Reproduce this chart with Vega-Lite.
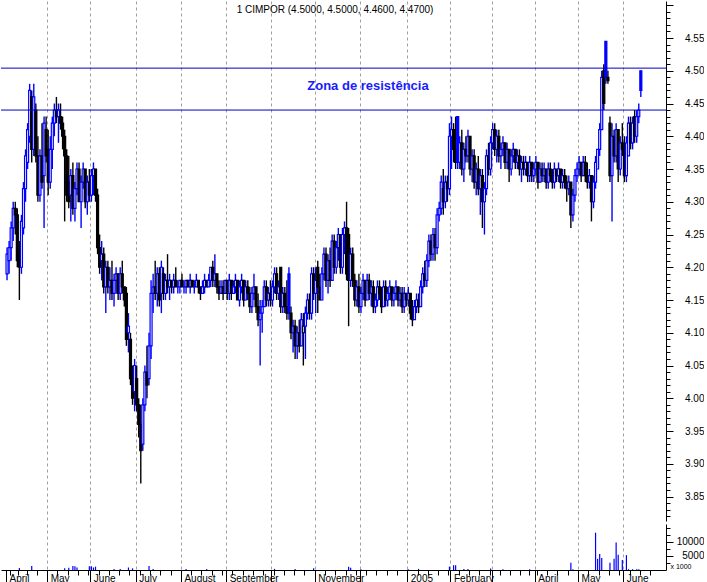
{
"$schema": "https://vega.github.io/schema/vega-lite/v6.json",
"padding": 0,
"spacing": 0,
"background": "white",
"config": {"view": {"stroke": null}, "font": "Liberation Sans", "concat": {"spacing": 0},
  "axis": {"labelFont": "Liberation Sans", "labelFontSize": 10, "labelColor": "#000000", "tickColor": "#000000", "domainColor": "#000000", "titleFont": "Liberation Sans", "labelOverlap": false, "labelFlush": false}},
"datasets": {"ohlc": [
{"d":"2004-04-01","o":4.19,"h":4.23,"l":4.18,"c":4.22,"v":0},
{"d":"2004-04-02","o":4.21,"h":4.24,"l":4.19,"c":4.23,"v":0},
{"d":"2004-04-05","o":4.23,"h":4.27,"l":4.21,"c":4.26,"v":0},
{"d":"2004-04-06","o":4.26,"h":4.30,"l":4.24,"c":4.29,"v":0},
{"d":"2004-04-07","o":4.29,"h":4.30,"l":4.25,"c":4.28,"v":0},
{"d":"2004-04-08","o":4.28,"h":4.29,"l":4.20,"c":4.21,"v":0},
{"d":"2004-04-13","o":4.22,"h":4.24,"l":4.15,"c":4.20,"v":700},
{"d":"2004-04-14","o":4.20,"h":4.28,"l":4.19,"c":4.27,"v":0},
{"d":"2004-04-15","o":4.26,"h":4.33,"l":4.25,"c":4.32,"v":0},
{"d":"2004-04-16","o":4.32,"h":4.38,"l":4.30,"c":4.37,"v":0},
{"d":"2004-04-19","o":4.36,"h":4.42,"l":4.35,"c":4.41,"v":0},
{"d":"2004-04-20","o":4.40,"h":4.48,"l":4.39,"c":4.47,"v":0},
{"d":"2004-04-21","o":4.46,"h":4.47,"l":4.36,"c":4.38,"v":1400},
{"d":"2004-04-22","o":4.38,"h":4.48,"l":4.37,"c":4.46,"v":0},
{"d":"2004-04-23","o":4.44,"h":4.45,"l":4.36,"c":4.37,"v":0},
{"d":"2004-04-26","o":4.37,"h":4.40,"l":4.30,"c":4.31,"v":0},
{"d":"2004-04-27","o":4.31,"h":4.38,"l":4.30,"c":4.37,"v":0},
{"d":"2004-04-28","o":4.37,"h":4.42,"l":4.32,"c":4.33,"v":0},
{"d":"2004-04-29","o":4.34,"h":4.43,"l":4.26,"c":4.42,"v":0},
{"d":"2004-04-30","o":4.41,"h":4.43,"l":4.36,"c":4.37,"v":0},
{"d":"2004-05-03","o":4.38,"h":4.41,"l":4.31,"c":4.33,"v":0},
{"d":"2004-05-04","o":4.33,"h":4.40,"l":4.32,"c":4.38,"v":0},
{"d":"2004-05-05","o":4.38,"h":4.43,"l":4.35,"c":4.42,"v":0},
{"d":"2004-05-06","o":4.42,"h":4.45,"l":4.40,"c":4.44,"v":0},
{"d":"2004-05-07","o":4.44,"h":4.46,"l":4.42,"c":4.43,"v":0},
{"d":"2004-05-10","o":4.43,"h":4.45,"l":4.39,"c":4.44,"v":0},
{"d":"2004-05-11","o":4.43,"h":4.45,"l":4.41,"c":4.42,"v":0},
{"d":"2004-05-12","o":4.42,"h":4.43,"l":4.38,"c":4.40,"v":0},
{"d":"2004-05-13","o":4.40,"h":4.41,"l":4.27,"c":4.37,"v":600},
{"d":"2004-05-14","o":4.37,"h":4.38,"l":4.30,"c":4.31,"v":0},
{"d":"2004-05-17","o":4.33,"h":4.37,"l":4.29,"c":4.30,"v":800},
{"d":"2004-05-18","o":4.31,"h":4.35,"l":4.27,"c":4.34,"v":0},
{"d":"2004-05-19","o":4.34,"h":4.36,"l":4.28,"c":4.29,"v":1400},
{"d":"2004-05-20","o":4.29,"h":4.33,"l":4.27,"c":4.32,"v":1300},
{"d":"2004-05-21","o":4.32,"h":4.36,"l":4.31,"c":4.35,"v":900},
{"d":"2004-05-24","o":4.35,"h":4.36,"l":4.30,"c":4.30,"v":0},
{"d":"2004-05-25","o":4.30,"h":4.34,"l":4.26,"c":4.33,"v":0},
{"d":"2004-05-26","o":4.33,"h":4.36,"l":4.32,"c":4.35,"v":0},
{"d":"2004-05-27","o":4.35,"h":4.35,"l":4.29,"c":4.30,"v":0},
{"d":"2004-05-28","o":4.30,"h":4.34,"l":4.28,"c":4.33,"v":0},
{"d":"2004-05-31","o":4.33,"h":4.35,"l":4.30,"c":4.31,"v":1300},
{"d":"2004-06-01","o":4.31,"h":4.35,"l":4.30,"c":4.34,"v":1300},
{"d":"2004-06-02","o":4.34,"h":4.36,"l":4.31,"c":4.35,"v":900},
{"d":"2004-06-03","o":4.35,"h":4.35,"l":4.30,"c":4.31,"v":1200},
{"d":"2004-06-04","o":4.31,"h":4.32,"l":4.22,"c":4.23,"v":0},
{"d":"2004-06-07","o":4.23,"h":4.25,"l":4.19,"c":4.20,"v":0},
{"d":"2004-06-08","o":4.21,"h":4.24,"l":4.18,"c":4.22,"v":0},
{"d":"2004-06-09","o":4.22,"h":4.23,"l":4.16,"c":4.17,"v":0},
{"d":"2004-06-10","o":4.17,"h":4.21,"l":4.13,"c":4.20,"v":0},
{"d":"2004-06-11","o":4.20,"h":4.21,"l":4.16,"c":4.17,"v":0},
{"d":"2004-06-14","o":4.17,"h":4.20,"l":4.15,"c":4.18,"v":0},
{"d":"2004-06-15","o":4.18,"h":4.21,"l":4.15,"c":4.16,"v":0},
{"d":"2004-06-16","o":4.16,"h":4.19,"l":4.14,"c":4.18,"v":400},
{"d":"2004-06-17","o":4.18,"h":4.20,"l":4.16,"c":4.19,"v":0},
{"d":"2004-06-18","o":4.19,"h":4.19,"l":4.15,"c":4.16,"v":0},
{"d":"2004-06-21","o":4.16,"h":4.20,"l":4.15,"c":4.19,"v":400},
{"d":"2004-06-22","o":4.19,"h":4.21,"l":4.16,"c":4.17,"v":0},
{"d":"2004-06-23","o":4.17,"h":4.17,"l":4.14,"c":4.15,"v":0},
{"d":"2004-06-24","o":4.16,"h":4.17,"l":4.08,"c":4.09,"v":0},
{"d":"2004-06-25","o":4.10,"h":4.13,"l":4.07,"c":4.11,"v":900},
{"d":"2004-06-28","o":4.09,"h":4.10,"l":4.02,"c":4.03,"v":0},
{"d":"2004-06-29","o":4.04,"h":4.05,"l":3.99,"c":4.00,"v":600},
{"d":"2004-06-30","o":4.01,"h":4.06,"l":3.98,"c":4.05,"v":0},
{"d":"2004-07-01","o":4.03,"h":4.05,"l":3.98,"c":3.99,"v":0},
{"d":"2004-07-02","o":3.99,"h":4.00,"l":3.94,"c":3.96,"v":0},
{"d":"2004-07-05","o":3.96,"h":3.99,"l":3.87,"c":3.92,"v":0},
{"d":"2004-07-06","o":3.93,"h":4.00,"l":3.92,"c":3.99,"v":0},
{"d":"2004-07-07","o":3.99,"h":4.05,"l":3.98,"c":4.04,"v":0},
{"d":"2004-07-08","o":4.04,"h":4.08,"l":4.00,"c":4.02,"v":0},
{"d":"2004-07-09","o":4.03,"h":4.10,"l":4.02,"c":4.08,"v":1400},
{"d":"2004-07-12","o":4.08,"h":4.18,"l":4.06,"c":4.16,"v":0},
{"d":"2004-07-13","o":4.16,"h":4.19,"l":4.13,"c":4.17,"v":400},
{"d":"2004-07-14","o":4.17,"h":4.21,"l":4.15,"c":4.16,"v":0},
{"d":"2004-07-15","o":4.16,"h":4.20,"l":4.14,"c":4.19,"v":0},
{"d":"2004-07-16","o":4.19,"h":4.20,"l":4.14,"c":4.15,"v":0},
{"d":"2004-07-19","o":4.16,"h":4.21,"l":4.13,"c":4.20,"v":0},
{"d":"2004-07-20","o":4.19,"h":4.20,"l":4.15,"c":4.16,"v":0},
{"d":"2004-07-21","o":4.16,"h":4.19,"l":4.15,"c":4.18,"v":0},
{"d":"2004-07-22","o":4.18,"h":4.22,"l":4.16,"c":4.17,"v":0},
{"d":"2004-07-23","o":4.17,"h":4.19,"l":4.15,"c":4.18,"v":0},
{"d":"2004-07-26","o":4.18,"h":4.18,"l":4.16,"c":4.17,"v":0},
{"d":"2004-07-27","o":4.17,"h":4.19,"l":4.16,"c":4.18,"v":0},
{"d":"2004-07-28","o":4.18,"h":4.20,"l":4.17,"c":4.17,"v":0},
{"d":"2004-07-29","o":4.17,"h":4.18,"l":4.16,"c":4.17,"v":0},
{"d":"2004-07-30","o":4.17,"h":4.18,"l":4.16,"c":4.18,"v":0},
{"d":"2004-08-02","o":4.18,"h":4.19,"l":4.17,"c":4.17,"v":0},
{"d":"2004-08-03","o":4.17,"h":4.18,"l":4.16,"c":4.17,"v":0},
{"d":"2004-08-04","o":4.17,"h":4.18,"l":4.16,"c":4.18,"v":400},
{"d":"2004-08-05","o":4.18,"h":4.18,"l":4.17,"c":4.17,"v":0},
{"d":"2004-08-06","o":4.17,"h":4.19,"l":4.16,"c":4.18,"v":0},
{"d":"2004-08-09","o":4.18,"h":4.18,"l":4.17,"c":4.17,"v":0},
{"d":"2004-08-10","o":4.17,"h":4.18,"l":4.16,"c":4.17,"v":0},
{"d":"2004-08-11","o":4.17,"h":4.19,"l":4.17,"c":4.18,"v":0},
{"d":"2004-08-12","o":4.18,"h":4.18,"l":4.16,"c":4.17,"v":0},
{"d":"2004-08-13","o":4.17,"h":4.17,"l":4.15,"c":4.16,"v":0},
{"d":"2004-08-16","o":4.16,"h":4.18,"l":4.16,"c":4.17,"v":0},
{"d":"2004-08-17","o":4.17,"h":4.19,"l":4.16,"c":4.18,"v":0},
{"d":"2004-08-18","o":4.18,"h":4.18,"l":4.17,"c":4.17,"v":400},
{"d":"2004-08-19","o":4.17,"h":4.19,"l":4.17,"c":4.18,"v":0},
{"d":"2004-08-20","o":4.18,"h":4.20,"l":4.17,"c":4.20,"v":0},
{"d":"2004-08-23","o":4.20,"h":4.21,"l":4.17,"c":4.18,"v":0},
{"d":"2004-08-24","o":4.18,"h":4.22,"l":4.17,"c":4.19,"v":0},
{"d":"2004-08-25","o":4.19,"h":4.19,"l":4.16,"c":4.17,"v":0},
{"d":"2004-08-26","o":4.17,"h":4.18,"l":4.15,"c":4.16,"v":0},
{"d":"2004-08-27","o":4.16,"h":4.18,"l":4.16,"c":4.17,"v":0},
{"d":"2004-08-30","o":4.17,"h":4.18,"l":4.15,"c":4.16,"v":0},
{"d":"2004-08-31","o":4.16,"h":4.18,"l":4.16,"c":4.18,"v":0},
{"d":"2004-09-01","o":4.18,"h":4.18,"l":4.15,"c":4.16,"v":0},
{"d":"2004-09-02","o":4.16,"h":4.19,"l":4.15,"c":4.18,"v":0},
{"d":"2004-09-03","o":4.18,"h":4.18,"l":4.15,"c":4.16,"v":0},
{"d":"2004-09-06","o":4.16,"h":4.18,"l":4.16,"c":4.17,"v":0},
{"d":"2004-09-07","o":4.17,"h":4.19,"l":4.16,"c":4.18,"v":0},
{"d":"2004-09-08","o":4.18,"h":4.18,"l":4.15,"c":4.15,"v":0},
{"d":"2004-09-09","o":4.15,"h":4.18,"l":4.14,"c":4.17,"v":0},
{"d":"2004-09-10","o":4.17,"h":4.19,"l":4.16,"c":4.18,"v":0},
{"d":"2004-09-13","o":4.18,"h":4.18,"l":4.14,"c":4.15,"v":0},
{"d":"2004-09-14","o":4.15,"h":4.18,"l":4.15,"c":4.17,"v":0},
{"d":"2004-09-15","o":4.17,"h":4.18,"l":4.15,"c":4.16,"v":0},
{"d":"2004-09-16","o":4.16,"h":4.17,"l":4.13,"c":4.14,"v":0},
{"d":"2004-09-17","o":4.14,"h":4.17,"l":4.13,"c":4.16,"v":0},
{"d":"2004-09-20","o":4.16,"h":4.19,"l":4.15,"c":4.17,"v":0},
{"d":"2004-09-21","o":4.17,"h":4.17,"l":4.13,"c":4.14,"v":0},
{"d":"2004-09-22","o":4.14,"h":4.16,"l":4.11,"c":4.12,"v":0},
{"d":"2004-09-23","o":4.12,"h":4.15,"l":4.05,"c":4.13,"v":0},
{"d":"2004-09-24","o":4.13,"h":4.15,"l":4.10,"c":4.14,"v":0},
{"d":"2004-09-27","o":4.14,"h":4.18,"l":4.14,"c":4.17,"v":0},
{"d":"2004-09-28","o":4.17,"h":4.18,"l":4.14,"c":4.15,"v":0},
{"d":"2004-09-29","o":4.15,"h":4.17,"l":4.14,"c":4.16,"v":0},
{"d":"2004-09-30","o":4.16,"h":4.18,"l":4.14,"c":4.15,"v":0},
{"d":"2004-10-01","o":4.15,"h":4.18,"l":4.14,"c":4.17,"v":0},
{"d":"2004-10-04","o":4.17,"h":4.20,"l":4.16,"c":4.19,"v":400},
{"d":"2004-10-05","o":4.19,"h":4.20,"l":4.15,"c":4.16,"v":0},
{"d":"2004-10-06","o":4.16,"h":4.18,"l":4.15,"c":4.17,"v":0},
{"d":"2004-10-07","o":4.20,"h":4.20,"l":4.13,"c":4.14,"v":0},
{"d":"2004-10-08","o":4.14,"h":4.17,"l":4.13,"c":4.16,"v":0},
{"d":"2004-10-11","o":4.16,"h":4.17,"l":4.13,"c":4.14,"v":0},
{"d":"2004-10-12","o":4.14,"h":4.18,"l":4.12,"c":4.13,"v":0},
{"d":"2004-10-13","o":4.19,"h":4.20,"l":4.12,"c":4.13,"v":0},
{"d":"2004-10-14","o":4.13,"h":4.14,"l":4.09,"c":4.10,"v":0},
{"d":"2004-10-15","o":4.10,"h":4.12,"l":4.07,"c":4.11,"v":0},
{"d":"2004-10-18","o":4.11,"h":4.12,"l":4.06,"c":4.08,"v":400},
{"d":"2004-10-19","o":4.08,"h":4.11,"l":4.06,"c":4.10,"v":0},
{"d":"2004-10-20","o":4.10,"h":4.12,"l":4.07,"c":4.08,"v":0},
{"d":"2004-10-21","o":4.08,"h":4.13,"l":4.08,"c":4.12,"v":0},
{"d":"2004-10-22","o":4.10,"h":4.13,"l":4.05,"c":4.11,"v":0},
{"d":"2004-10-25","o":4.11,"h":4.14,"l":4.06,"c":4.13,"v":0},
{"d":"2004-10-26","o":4.13,"h":4.16,"l":4.12,"c":4.15,"v":0},
{"d":"2004-10-27","o":4.15,"h":4.16,"l":4.12,"c":4.13,"v":0},
{"d":"2004-10-28","o":4.13,"h":4.20,"l":4.12,"c":4.19,"v":0},
{"d":"2004-10-29","o":4.19,"h":4.20,"l":4.15,"c":4.16,"v":600},
{"d":"2004-11-01","o":4.16,"h":4.20,"l":4.13,"c":4.18,"v":0},
{"d":"2004-11-02","o":4.20,"h":4.21,"l":4.13,"c":4.17,"v":0},
{"d":"2004-11-03","o":4.17,"h":4.19,"l":4.15,"c":4.15,"v":0},
{"d":"2004-11-04","o":4.15,"h":4.20,"l":4.15,"c":4.19,"v":0},
{"d":"2004-11-05","o":4.19,"h":4.23,"l":4.18,"c":4.22,"v":0},
{"d":"2004-11-08","o":4.22,"h":4.23,"l":4.17,"c":4.18,"v":0},
{"d":"2004-11-09","o":4.18,"h":4.22,"l":4.16,"c":4.21,"v":0},
{"d":"2004-11-10","o":4.21,"h":4.23,"l":4.17,"c":4.18,"v":0},
{"d":"2004-11-11","o":4.18,"h":4.25,"l":4.18,"c":4.24,"v":0},
{"d":"2004-11-12","o":4.24,"h":4.25,"l":4.19,"c":4.20,"v":0},
{"d":"2004-11-15","o":4.20,"h":4.24,"l":4.19,"c":4.23,"v":0},
{"d":"2004-11-16","o":4.23,"h":4.26,"l":4.21,"c":4.25,"v":0},
{"d":"2004-11-17","o":4.25,"h":4.25,"l":4.19,"c":4.20,"v":0},
{"d":"2004-11-18","o":4.20,"h":4.26,"l":4.19,"c":4.25,"v":0},
{"d":"2004-11-19","o":4.25,"h":4.27,"l":4.22,"c":4.26,"v":0},
{"d":"2004-11-22","o":4.26,"h":4.30,"l":4.18,"c":4.19,"v":0},
{"d":"2004-11-23","o":4.25,"h":4.26,"l":4.11,"c":4.18,"v":1200},
{"d":"2004-11-24","o":4.18,"h":4.23,"l":4.17,"c":4.22,"v":800},
{"d":"2004-11-25","o":4.22,"h":4.23,"l":4.17,"c":4.18,"v":0},
{"d":"2004-11-26","o":4.18,"h":4.19,"l":4.14,"c":4.15,"v":0},
{"d":"2004-11-29","o":4.15,"h":4.18,"l":4.14,"c":4.17,"v":0},
{"d":"2004-11-30","o":4.17,"h":4.19,"l":4.13,"c":4.14,"v":0},
{"d":"2004-12-01","o":4.14,"h":4.17,"l":4.13,"c":4.16,"v":300},
{"d":"2004-12-02","o":4.16,"h":4.19,"l":4.15,"c":4.18,"v":0},
{"d":"2004-12-03","o":4.18,"h":4.18,"l":4.14,"c":4.15,"v":0},
{"d":"2004-12-06","o":4.15,"h":4.19,"l":4.15,"c":4.18,"v":0},
{"d":"2004-12-07","o":4.18,"h":4.19,"l":4.15,"c":4.16,"v":0},
{"d":"2004-12-08","o":4.16,"h":4.18,"l":4.14,"c":4.17,"v":0},
{"d":"2004-12-09","o":4.17,"h":4.18,"l":4.13,"c":4.14,"v":0},
{"d":"2004-12-10","o":4.14,"h":4.16,"l":4.13,"c":4.15,"v":0},
{"d":"2004-12-13","o":4.15,"h":4.18,"l":4.14,"c":4.17,"v":0},
{"d":"2004-12-14","o":4.17,"h":4.18,"l":4.15,"c":4.16,"v":0},
{"d":"2004-12-15","o":4.16,"h":4.17,"l":4.13,"c":4.14,"v":0},
{"d":"2004-12-16","o":4.14,"h":4.18,"l":4.14,"c":4.17,"v":0},
{"d":"2004-12-17","o":4.17,"h":4.18,"l":4.14,"c":4.15,"v":0},
{"d":"2004-12-20","o":4.15,"h":4.17,"l":4.14,"c":4.16,"v":0},
{"d":"2004-12-21","o":4.16,"h":4.18,"l":4.15,"c":4.17,"v":0},
{"d":"2004-12-22","o":4.17,"h":4.17,"l":4.14,"c":4.15,"v":0},
{"d":"2004-12-23","o":4.15,"h":4.17,"l":4.14,"c":4.16,"v":0},
{"d":"2004-12-24","o":4.16,"h":4.18,"l":4.15,"c":4.17,"v":0},
{"d":"2004-12-27","o":4.17,"h":4.17,"l":4.14,"c":4.15,"v":0},
{"d":"2004-12-28","o":4.15,"h":4.17,"l":4.14,"c":4.16,"v":0},
{"d":"2004-12-29","o":4.16,"h":4.17,"l":4.13,"c":4.14,"v":0},
{"d":"2004-12-30","o":4.14,"h":4.17,"l":4.13,"c":4.16,"v":0},
{"d":"2004-12-31","o":4.16,"h":4.16,"l":4.14,"c":4.15,"v":0},
{"d":"2005-01-03","o":4.15,"h":4.17,"l":4.14,"c":4.16,"v":300},
{"d":"2005-01-04","o":4.16,"h":4.16,"l":4.12,"c":4.13,"v":0},
{"d":"2005-01-05","o":4.13,"h":4.15,"l":4.11,"c":4.12,"v":0},
{"d":"2005-01-06","o":4.12,"h":4.15,"l":4.12,"c":4.14,"v":0},
{"d":"2005-01-07","o":4.14,"h":4.16,"l":4.13,"c":4.15,"v":0},
{"d":"2005-01-10","o":4.15,"h":4.16,"l":4.13,"c":4.14,"v":400},
{"d":"2005-01-11","o":4.14,"h":4.18,"l":4.14,"c":4.17,"v":0},
{"d":"2005-01-12","o":4.17,"h":4.20,"l":4.16,"c":4.19,"v":0},
{"d":"2005-01-13","o":4.19,"h":4.21,"l":4.17,"c":4.18,"v":0},
{"d":"2005-01-14","o":4.18,"h":4.22,"l":4.17,"c":4.21,"v":0},
{"d":"2005-01-17","o":4.21,"h":4.25,"l":4.20,"c":4.24,"v":0},
{"d":"2005-01-18","o":4.24,"h":4.25,"l":4.21,"c":4.22,"v":0},
{"d":"2005-01-19","o":4.22,"h":4.26,"l":4.21,"c":4.25,"v":0},
{"d":"2005-01-20","o":4.25,"h":4.26,"l":4.21,"c":4.23,"v":0},
{"d":"2005-01-21","o":4.23,"h":4.29,"l":4.22,"c":4.28,"v":0},
{"d":"2005-01-24","o":4.28,"h":4.30,"l":4.27,"c":4.29,"v":0},
{"d":"2005-01-25","o":4.29,"h":4.34,"l":4.28,"c":4.33,"v":0},
{"d":"2005-01-26","o":4.32,"h":4.35,"l":4.28,"c":4.30,"v":0},
{"d":"2005-01-27","o":4.30,"h":4.34,"l":4.29,"c":4.33,"v":0},
{"d":"2005-01-28","o":4.33,"h":4.34,"l":4.30,"c":4.32,"v":0},
{"d":"2005-01-31","o":4.32,"h":4.42,"l":4.31,"c":4.40,"v":1200},
{"d":"2005-02-01","o":4.40,"h":4.43,"l":4.35,"c":4.41,"v":0},
{"d":"2005-02-02","o":4.41,"h":4.42,"l":4.36,"c":4.38,"v":1700},
{"d":"2005-02-03","o":4.38,"h":4.43,"l":4.35,"c":4.36,"v":1700},
{"d":"2005-02-04","o":4.43,"h":4.43,"l":4.35,"c":4.36,"v":0},
{"d":"2005-02-07","o":4.36,"h":4.40,"l":4.35,"c":4.39,"v":0},
{"d":"2005-02-08","o":4.39,"h":4.41,"l":4.34,"c":4.35,"v":0},
{"d":"2005-02-09","o":4.35,"h":4.39,"l":4.33,"c":4.38,"v":400},
{"d":"2005-02-10","o":4.38,"h":4.40,"l":4.36,"c":4.37,"v":0},
{"d":"2005-02-11","o":4.37,"h":4.41,"l":4.36,"c":4.40,"v":400},
{"d":"2005-02-14","o":4.40,"h":4.40,"l":4.34,"c":4.35,"v":0},
{"d":"2005-02-15","o":4.35,"h":4.38,"l":4.33,"c":4.37,"v":0},
{"d":"2005-02-16","o":4.37,"h":4.38,"l":4.32,"c":4.33,"v":0},
{"d":"2005-02-17","o":4.33,"h":4.36,"l":4.31,"c":4.35,"v":0},
{"d":"2005-02-18","o":4.35,"h":4.37,"l":4.31,"c":4.32,"v":0},
{"d":"2005-02-21","o":4.32,"h":4.35,"l":4.28,"c":4.34,"v":0},
{"d":"2005-02-22","o":4.34,"h":4.35,"l":4.26,"c":4.30,"v":0},
{"d":"2005-02-23","o":4.30,"h":4.33,"l":4.25,"c":4.32,"v":0},
{"d":"2005-02-24","o":4.32,"h":4.38,"l":4.31,"c":4.37,"v":0},
{"d":"2005-02-25","o":4.37,"h":4.39,"l":4.34,"c":4.35,"v":0},
{"d":"2005-02-28","o":4.35,"h":4.40,"l":4.34,"c":4.39,"v":500},
{"d":"2005-03-01","o":4.39,"h":4.42,"l":4.38,"c":4.41,"v":0},
{"d":"2005-03-02","o":4.41,"h":4.42,"l":4.37,"c":4.38,"v":0},
{"d":"2005-03-03","o":4.38,"h":4.41,"l":4.36,"c":4.40,"v":0},
{"d":"2005-03-04","o":4.40,"h":4.41,"l":4.36,"c":4.37,"v":0},
{"d":"2005-03-07","o":4.37,"h":4.39,"l":4.35,"c":4.38,"v":0},
{"d":"2005-03-08","o":4.38,"h":4.40,"l":4.37,"c":4.39,"v":300},
{"d":"2005-03-09","o":4.39,"h":4.39,"l":4.35,"c":4.36,"v":0},
{"d":"2005-03-10","o":4.36,"h":4.39,"l":4.35,"c":4.38,"v":0},
{"d":"2005-03-11","o":4.38,"h":4.38,"l":4.33,"c":4.35,"v":0},
{"d":"2005-03-14","o":4.35,"h":4.38,"l":4.34,"c":4.37,"v":0},
{"d":"2005-03-15","o":4.37,"h":4.39,"l":4.36,"c":4.38,"v":0},
{"d":"2005-03-16","o":4.38,"h":4.38,"l":4.35,"c":4.36,"v":0},
{"d":"2005-03-17","o":4.36,"h":4.38,"l":4.35,"c":4.37,"v":0},
{"d":"2005-03-18","o":4.37,"h":4.38,"l":4.34,"c":4.35,"v":0},
{"d":"2005-03-21","o":4.35,"h":4.37,"l":4.33,"c":4.36,"v":0},
{"d":"2005-03-22","o":4.36,"h":4.37,"l":4.34,"c":4.35,"v":0},
{"d":"2005-03-23","o":4.35,"h":4.37,"l":4.34,"c":4.36,"v":0},
{"d":"2005-03-24","o":4.36,"h":4.36,"l":4.33,"c":4.34,"v":0},
{"d":"2005-03-29","o":4.34,"h":4.37,"l":4.33,"c":4.36,"v":300},
{"d":"2005-03-30","o":4.36,"h":4.36,"l":4.33,"c":4.34,"v":0},
{"d":"2005-03-31","o":4.34,"h":4.36,"l":4.33,"c":4.35,"v":0},
{"d":"2005-04-01","o":4.35,"h":4.37,"l":4.34,"c":4.36,"v":0},
{"d":"2005-04-04","o":4.36,"h":4.36,"l":4.32,"c":4.33,"v":0},
{"d":"2005-04-05","o":4.33,"h":4.36,"l":4.33,"c":4.35,"v":0},
{"d":"2005-04-06","o":4.35,"h":4.36,"l":4.33,"c":4.34,"v":0},
{"d":"2005-04-07","o":4.34,"h":4.36,"l":4.33,"c":4.35,"v":0},
{"d":"2005-04-08","o":4.35,"h":4.35,"l":4.32,"c":4.33,"v":0},
{"d":"2005-04-11","o":4.33,"h":4.36,"l":4.32,"c":4.35,"v":0},
{"d":"2005-04-12","o":4.35,"h":4.36,"l":4.33,"c":4.34,"v":0},
{"d":"2005-04-13","o":4.34,"h":4.35,"l":4.32,"c":4.33,"v":0},
{"d":"2005-04-14","o":4.33,"h":4.36,"l":4.32,"c":4.35,"v":0},
{"d":"2005-04-15","o":4.35,"h":4.35,"l":4.33,"c":4.34,"v":0},
{"d":"2005-04-18","o":4.34,"h":4.36,"l":4.33,"c":4.35,"v":0},
{"d":"2005-04-19","o":4.35,"h":4.35,"l":4.32,"c":4.33,"v":0},
{"d":"2005-04-20","o":4.33,"h":4.35,"l":4.32,"c":4.34,"v":0},
{"d":"2005-04-21","o":4.34,"h":4.35,"l":4.32,"c":4.33,"v":0},
{"d":"2005-04-22","o":4.33,"h":4.34,"l":4.30,"c":4.32,"v":0},
{"d":"2005-04-25","o":4.32,"h":4.34,"l":4.31,"c":4.33,"v":0},
{"d":"2005-04-26","o":4.33,"h":4.33,"l":4.26,"c":4.28,"v":2600},
{"d":"2005-04-27","o":4.28,"h":4.32,"l":4.27,"c":4.31,"v":300},
{"d":"2005-04-28","o":4.31,"h":4.35,"l":4.30,"c":4.34,"v":0},
{"d":"2005-04-29","o":4.34,"h":4.36,"l":4.33,"c":4.35,"v":0},
{"d":"2005-05-02","o":4.35,"h":4.37,"l":4.34,"c":4.36,"v":0},
{"d":"2005-05-03","o":4.36,"h":4.36,"l":4.33,"c":4.34,"v":0},
{"d":"2005-05-04","o":4.34,"h":4.37,"l":4.34,"c":4.36,"v":0},
{"d":"2005-05-05","o":4.36,"h":4.37,"l":4.33,"c":4.34,"v":0},
{"d":"2005-05-06","o":4.34,"h":4.36,"l":4.32,"c":4.33,"v":0},
{"d":"2005-05-09","o":4.33,"h":4.35,"l":4.32,"c":4.34,"v":0},
{"d":"2005-05-10","o":4.34,"h":4.34,"l":4.27,"c":4.30,"v":0},
{"d":"2005-05-11","o":4.30,"h":4.34,"l":4.29,"c":4.33,"v":0},
{"d":"2005-05-12","o":4.33,"h":4.37,"l":4.32,"c":4.36,"v":13300},
{"d":"2005-05-13","o":4.35,"h":4.38,"l":4.35,"c":4.38,"v":4000},
{"d":"2005-05-16","o":4.38,"h":4.42,"l":4.37,"c":4.41,"v":5700},
{"d":"2005-05-17","o":4.41,"h":4.50,"l":4.41,"c":4.49,"v":4300},
{"d":"2005-05-18","o":4.50,"h":4.51,"l":4.44,"c":4.45,"v":0},
{"d":"2005-05-19","o":4.545,"h":4.545,"l":4.48,"c":4.49,"v":0},
{"d":"2005-05-20","o":4.49,"h":4.50,"l":4.48,"c":4.485,"v":0},
{"d":"2005-05-23","o":4.42,"h":4.43,"l":4.33,"c":4.34,"v":2600},
{"d":"2005-05-24","o":4.34,"h":4.42,"l":4.27,"c":4.40,"v":0},
{"d":"2005-05-25","o":4.40,"h":4.41,"l":4.36,"c":4.37,"v":4000},
{"d":"2005-05-26","o":4.37,"h":4.42,"l":4.36,"c":4.41,"v":9800},
{"d":"2005-05-27","o":4.41,"h":4.41,"l":4.33,"c":4.35,"v":5400},
{"d":"2005-05-30","o":4.35,"h":4.40,"l":4.34,"c":4.39,"v":0},
{"d":"2005-05-31","o":4.39,"h":4.42,"l":4.37,"c":4.38,"v":3600},
{"d":"2005-06-01","o":4.38,"h":4.40,"l":4.33,"c":4.34,"v":0},
{"d":"2005-06-02","o":4.34,"h":4.40,"l":4.33,"c":4.39,"v":5300},
{"d":"2005-06-03","o":4.37,"h":4.43,"l":4.37,"c":4.42,"v":300},
{"d":"2005-06-06","o":4.42,"h":4.43,"l":4.38,"c":4.39,"v":0},
{"d":"2005-06-07","o":4.39,"h":4.43,"l":4.38,"c":4.42,"v":300},
{"d":"2005-06-08","o":4.43,"h":4.44,"l":4.39,"c":4.40,"v":0},
{"d":"2005-06-09","o":4.40,"h":4.44,"l":4.39,"c":4.43,"v":300},
{"d":"2005-06-10","o":4.43,"h":4.45,"l":4.42,"c":4.44,"v":300},
{"d":"2005-06-13","o":4.50,"h":4.50,"l":4.46,"c":4.47,"v":0}
]},
"vconcat": [
{
  "width": 665, "height": 520,
  "encoding": {
    "x": {"type": "quantitative", "scale": {"domain": [0.5, 318.8], "nice": false, "zero": false},
      "axis": {"values": [20.5,41.5,63.5,85.5,107.5,129.5,150.5,172.5,195.5,216.5,236.5,257.5,278.5,300.5], "grid": true, "gridColor": "#a0a0a0", "gridDash": [3,3], "gridWidth": 1, "labels": false, "ticks": false, "domain": false, "title": null}},
    "y": {"type": "quantitative", "scale": {"domain": [3.8126, 4.6065], "nice": false, "zero": false},
      "axis": {"orient": "right", "title": null, "grid": false,
        "values": [3.82,3.83,3.84,3.85,3.86,3.87,3.88,3.89,3.9,3.91,3.92,3.93,3.94,3.95,3.96,3.97,3.98,3.99,4.0,4.01,4.02,4.03,4.04,4.05,4.06,4.07,4.08,4.09,4.1,4.11,4.12,4.13,4.14,4.15,4.16,4.17,4.18,4.19,4.2,4.21,4.22,4.23,4.24,4.25,4.26,4.27,4.28,4.29,4.3,4.31,4.32,4.33,4.34,4.35,4.36,4.37,4.38,4.39,4.4,4.41,4.42,4.43,4.44,4.45,4.46,4.47,4.48,4.49,4.5,4.51,4.52,4.53,4.54,4.55,4.56,4.57,4.58,4.59,4.6],
        "labelExpr": "(abs(datum.value*20 - round(datum.value*20)) < 0.001 && datum.value < 4.58) ? format(datum.value, '.2f') : ''",
        "tickSize": {"condition": {"test": "abs(datum.value*20 - round(datum.value*20)) < 0.001", "value": 7}, "value": 4},
        "labelAlign": "right", "labelBaseline": "middle", "labelPadding": 31, "labelOverlap": false, "labelFlush": false, "labelBound": false}}
  },
  "layer": [
    {
      "data": {"name": "ohlc"},
      "transform": [
        {"window": [{"op": "row_number", "as": "rn"}, {"op": "lag", "field": "c", "as": "pc"}], "sort": [{"field": "d"}]},
        {"calculate": "(datum.pc == null || datum.c >= datum.pc) ? 'up' : 'down'", "as": "dir"}
      ],
      "layer": [
        {"mark": {"type": "rule", "strokeWidth": 1.4},
         "encoding": {
           "x": {"field": "rn", "type": "quantitative"},
           "y": {"field": "l", "type": "quantitative"},
           "y2": {"field": "h"},
           "color": {"field": "dir", "type": "nominal", "scale": {"domain": ["up", "down"], "range": ["#0000ff", "#000000"]}, "legend": null}
         }},
        {"mark": {"type": "bar", "orient": "vertical", "size": 2, "strokeWidth": 1.2},
         "encoding": {
           "x": {"field": "rn", "type": "quantitative"},
           "y": {"field": "o", "type": "quantitative"},
           "y2": {"field": "c"},
           "fill": {"condition": {"test": "datum.c > datum.o", "value": "#ffffff"}, "field": "dir", "type": "nominal", "scale": {"domain": ["up", "down"], "range": ["#0000ff", "#000000"]}, "legend": null},
           "stroke": {"field": "dir", "type": "nominal", "scale": {"domain": ["up", "down"], "range": ["#0000ff", "#000000"]}, "legend": null}
         }}
      ]
    },
    {
      "data": {"values": [{"p": 4.504}, {"p": 4.44}]},
      "mark": {"type": "rule", "color": "#0000c8", "strokeWidth": 1},
      "encoding": {"y": {"field": "p", "type": "quantitative"}}
    },
    {
      "data": {"values": [{"t": "Zona de resistência"}]},
      "mark": {"type": "text", "font": "Liberation Sans", "fontSize": 13, "fontWeight": "bold", "color": "#1a1aff", "align": "center", "baseline": "middle"},
      "encoding": {"x": {"datum": 176.4, "type": "quantitative"}, "y": {"datum": 4.4767, "type": "quantitative"}, "text": {"field": "t"}}
    },
    {
      "data": {"values": [{"t": "1 CIMPOR (4.5000, 4.5000, 4.4600, 4.4700)"}]},
      "mark": {"type": "text", "font": "Liberation Sans", "fontSize": 10, "color": "#000000", "align": "center", "baseline": "middle"},
      "encoding": {"x": {"datum": 160.4, "type": "quantitative"}, "y": {"datum": 4.592, "type": "quantitative"}, "text": {"field": "t"}}
    }
  ]
},
{
  "width": 665, "height": 46,
  "data": {"name": "ohlc"},
  "transform": [
    {"window": [{"op": "row_number", "as": "rn"}], "sort": [{"field": "d"}]},
    {"filter": "datum.v > 0"}
  ],
  "mark": {"type": "bar", "orient": "vertical", "size": 1.2, "color": "#0000ff"},
  "encoding": {
    "x": {"field": "rn", "type": "quantitative", "scale": {"domain": [0.5, 318.8], "nice": false, "zero": false},
      "axis": {"orient": "bottom", "title": null,
        "values": [0.5,20.5,41.5,63.5,85.5,107.5,129.5,150.5,172.5,195.5,216.5,236.5,257.5,278.5,300.5,2.5,6.5,10.5,15.5,25.5,30.5,35.5,40.5,45.5,50.5,55.5,60.5,65.5,70.5,75.5,80.5,90.5,95.5,100.5,105.5,110.5,115.5,120.5,125.5,130.5,135.5,140.5,145.5,155.5,160.5,165.5,170.5,175.5,180.5,185.5,190.5,200.5,205.5,210.5,215.5,220.5,225.5,230.5,235.5,240.5,245.5,250.5,254.5,258.5,263.5,268.5,273.5,283.5,288.5,293.5,298.5,303.5,308.5,313.5],
        "labelExpr": "['April','May','June','July','August','September','','November','','2005','February','','April','May','June'][indexof([0.5,20.5,41.5,63.5,85.5,107.5,129.5,150.5,172.5,195.5,216.5,236.5,257.5,278.5,300.5], datum.value)] || ''",
        "tickSize": {"condition": {"test": "indexof([0.5,20.5,41.5,63.5,85.5,107.5,129.5,150.5,172.5,195.5,216.5,236.5,257.5,278.5,300.5], datum.value) >= 0", "value": 15}, "value": 5},
        "grid": true, "gridColor": "#a0a0a0", "gridDash": [3,3],
        "gridOpacity": {"condition": {"test": "indexof([20.5,41.5,63.5,85.5,107.5,129.5,150.5,172.5,195.5,216.5,236.5,257.5,278.5,300.5], datum.value) >= 0", "value": 1}, "value": 0},
        "labelAlign": "left", "labelBaseline": "alphabetic", "labelPadding": -4, "labelOffset": 3, "labelOverlap": false, "labelFlush": false, "labelBound": false}},
    "y": {"field": "v", "type": "quantitative", "scale": {"domain": [0, 16400], "nice": false},
      "axis": {"orient": "right", "grid": false,
        "values": [2500, 5000, 7500, 10000, 12500, 15000],
        "labelExpr": "(datum.value == 5000 || datum.value == 10000) ? ('' + datum.value) : ''",
        "tickSize": {"condition": {"test": "datum.value == 5000 || datum.value == 10000", "value": 7}, "value": 4},
        "labelAlign": "right", "labelBaseline": "middle", "labelPadding": 31, "labelOverlap": false, "labelFlush": false, "labelBound": false,
        "title": "x 1000", "titleAngle": 0, "titleFontSize": 7, "titleFontWeight": "normal", "titleAlign": "left", "titleBaseline": "bottom", "titleX": 4, "titleY": 45}}
  }
}
]
}
